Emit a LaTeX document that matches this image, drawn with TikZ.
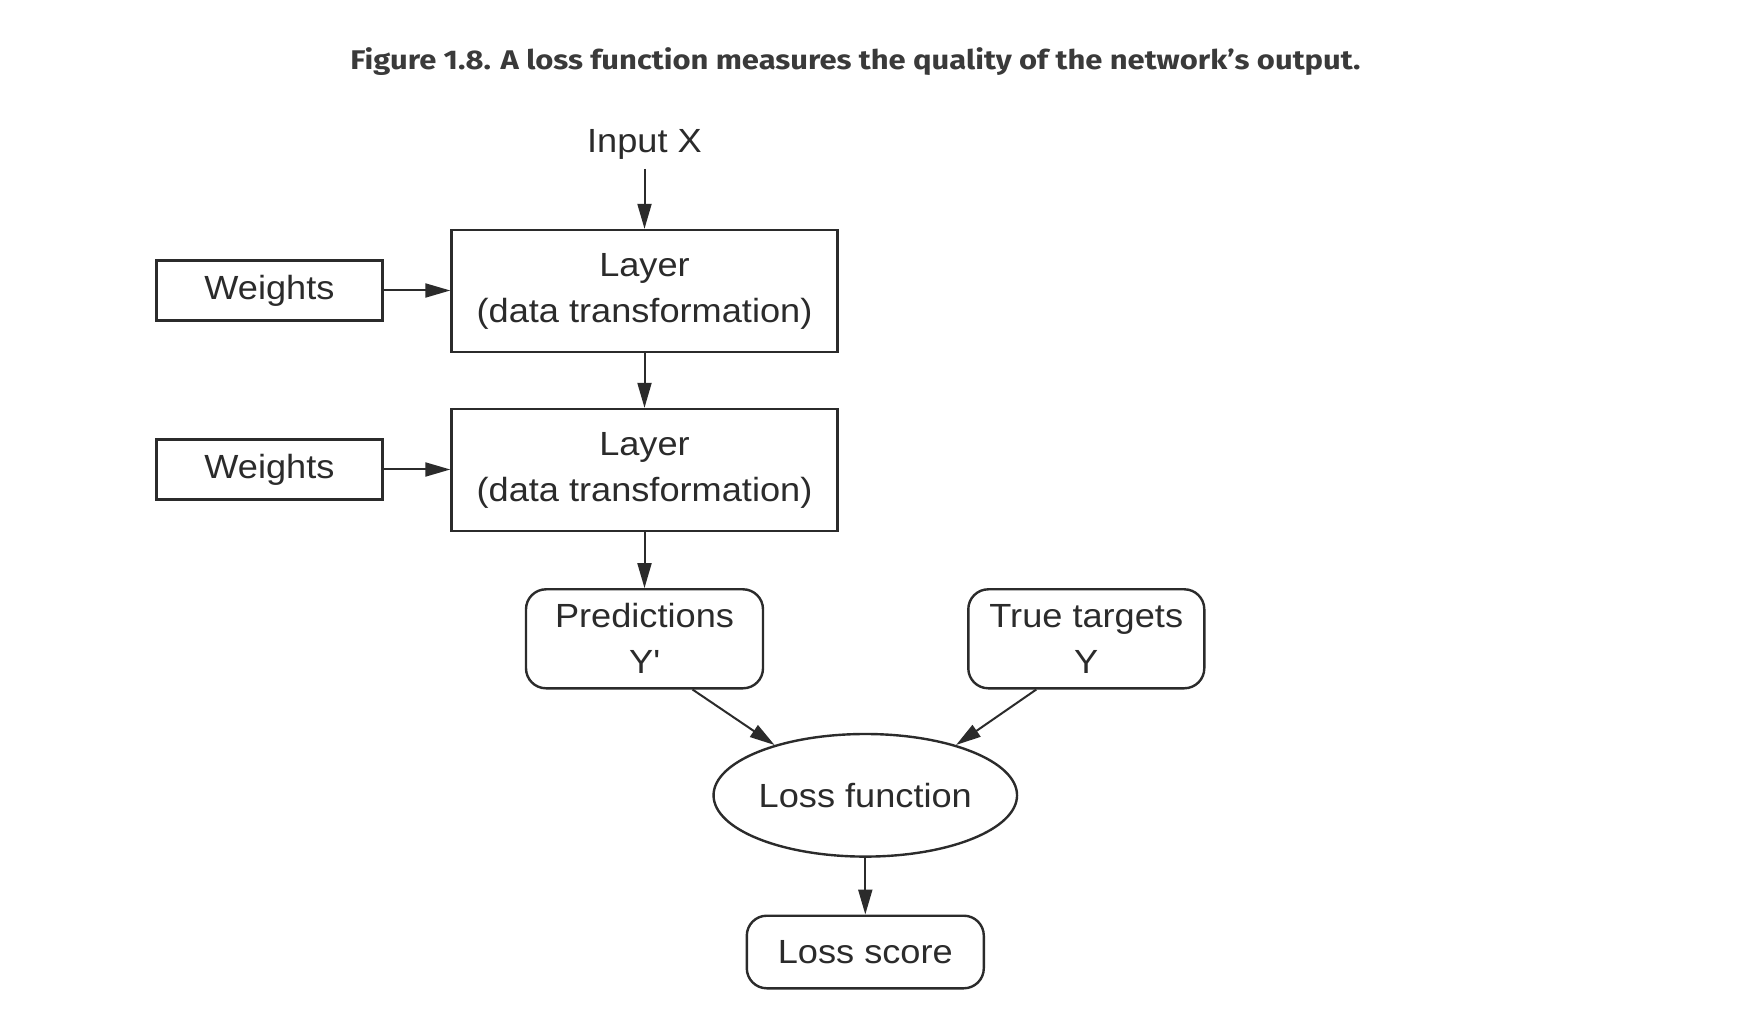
\documentclass[tikz,border=0pt]{standalone}
\usepackage{fontspec}
\setmainfont{Liberation Sans}[FakeStretch=1.08]
\newfontfamily\titlefont{Fira Sans}
\usetikzlibrary{shapes.geometric,arrows.meta}
\definecolor{ink}{HTML}{2B2B2B}
\definecolor{titlecol}{HTML}{3A3A3A}
\newcommand\diagfont{\fontsize{16.75}{23}\selectfont}
\begin{document}
\begin{tikzpicture}[x=0.5pt,y=-0.5pt,
  box/.style={draw=ink,line width=1.2pt,inner sep=0pt,align=center,text=ink,font=\diagfont},
  sqbox/.style={box,rectangle},
  rbox/.style={box,rectangle,rounded corners=10pt},
  ebox/.style={box,ellipse},
  arr/.style={draw=ink,line width=1pt,-{Triangle[length=12.5pt,width=7pt]}},
  lbl/.style={text=ink,font=\diagfont,inner sep=0pt}]
\fill[white] (0,0) rectangle (1752,1026);
\useasboundingbox (0,0) rectangle (1752,1026);
% title
\node[anchor=base,text=titlecol,inner sep=0pt,font=\titlefont\bfseries\fontsize{13.5}{16}\selectfont] (title) at (855.5,69.3)
  {\resizebox{505pt}{\height}{Figure 1.8. A loss function measures the quality of the network’s output.}};
% input
\node[lbl,anchor=base] (input) at (644.5,153) {Input X};
\coordinate (inarr) at (644.5,169);
% layers
\node[sqbox,minimum width=193pt,minimum height=61pt] (L1) at (644.5,291) {Layer\\(data transformation)};
\node[sqbox,minimum width=193pt,minimum height=61pt] (L2) at (644.5,470) {Layer\\(data transformation)};
% weights
\node[sqbox,minimum width=113pt,minimum height=30pt] (W1) at (269.5,290.5) {Weights};
\node[sqbox,minimum width=113pt,minimum height=30pt] (W2) at (269.5,469.5) {Weights};
% predictions and targets
\node[rbox,minimum width=118.5pt,minimum height=49.5pt] (pred) at (644.5,638.8) {Predictions\\Y\textquotesingle};
\node[rbox,minimum width=118pt,minimum height=49.5pt] (targ) at (1086.3,638.8) {True targets\\Y};
% loss
\node[ebox,minimum width=151.75pt,minimum height=61.3pt] (loss) at (865.3,795.3) {Loss function};
\node[rbox,minimum width=118.5pt,minimum height=36.3pt] (score) at (865.3,952) {Loss score};
% connectors
\draw[arr] (inarr) -- (L1.north);
\draw[arr] (W1.east) -- (L1.west |- W1.east);
\draw[arr] (W2.east) -- (L2.west |- W2.east);
\draw[arr] (L1.south) -- (L2.north);
\draw[arr] (L2.south) -- (pred.north);
\draw[arr] ([xshift=24pt]pred.south) -- (loss.151);
\draw[arr] ([xshift=-25pt]targ.south) -- (loss.29);
\draw[arr] (loss.south) -- (score.north);
\end{tikzpicture}
\end{document}
